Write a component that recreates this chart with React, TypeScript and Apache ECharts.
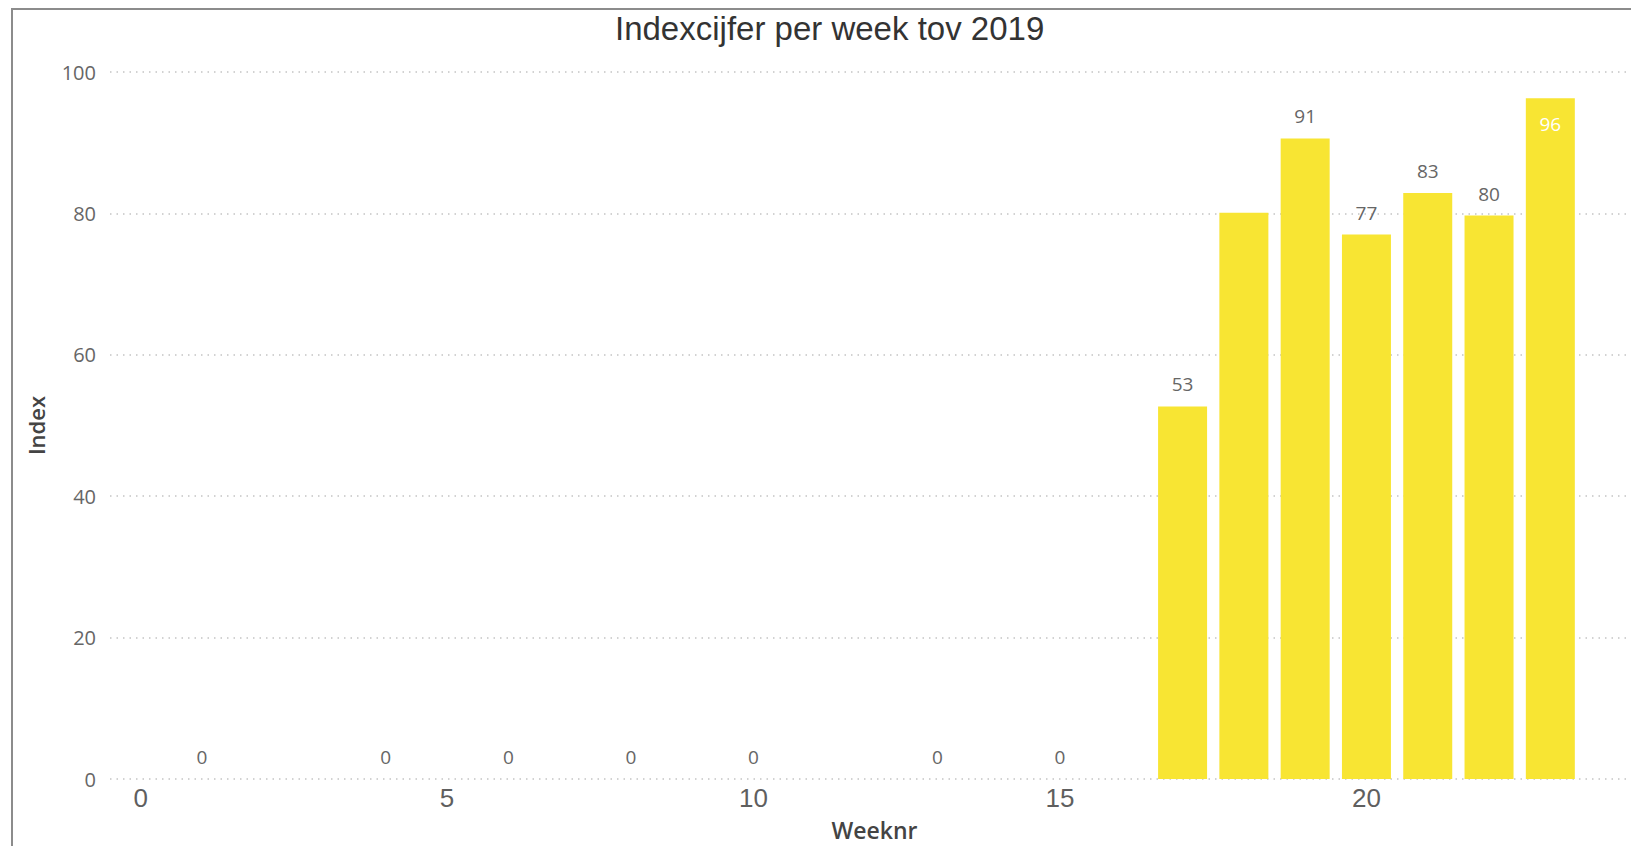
import React, { useEffect, useRef } from "react";
import * as echarts from "echarts";

const titleText = "Indexcijfer per week tov 2019";
const xAxisName = "Weeknr";
const yAxisName = "Index";
const weeks = [1, 4, 6, 8, 10, 13, 15, 17, 18, 19, 20, 21, 22, 23];
const indexValues = [0, 0, 0, 0, 0, 0, 0, 52.7, 80.1, 90.6, 77.0, 82.9, 79.7, 96.3];
const hiddenLabelWeeks = [18];
const insideLabelWeeks = [23];
const xTickValues = [0, 5, 10, 15, 20];

const BAR_COLOR = "#F8E533";
const LABEL_FONT = "'Open Sans', 'Noto Sans', sans-serif";

export default function App() {
  const ref = useRef<HTMLDivElement>(null);

  useEffect(() => {
    document.body.style.margin = "0";
    if (!ref.current) return;
    const chart = echarts.init(ref.current, undefined, { renderer: "svg" });

    const data = weeks.map((w, i) => {
      const item: any = { value: [w, indexValues[i]] };
      if (hiddenLabelWeeks.includes(w)) {
        item.label = { show: false };
      } else if (insideLabelWeeks.includes(w)) {
        item.label = { show: true, position: "insideTop", distance: 16, color: "#ffffff" };
      }
      return item;
    });

    chart.setOption({
      animation: false,
      backgroundColor: "#ffffff",
      title: {
        text: titleText,
        left: 610,
        top: 7,
        textStyle: {
          fontFamily: "'Liberation Sans', Arial, sans-serif",
          fontSize: 33,
          fontWeight: "normal",
          color: "#333333",
        },
      },
      graphic: [
        {
          type: "rect",
          z: -1,
          silent: true,
          shape: { x: 12, y: 9, width: 1700, height: 900 },
          style: { fill: "none", stroke: "#8c8c8c", lineWidth: 2 },
        },
      ],
      grid: { left: 110, top: 72, width: 1520, height: 707 },
      xAxis: {
        type: "value",
        min: -0.5,
        max: 24.3,
        name: xAxisName,
        nameLocation: "middle",
        nameGap: 39,
        nameTextStyle: {
          fontFamily: LABEL_FONT,
          fontSize: 23,
          fontWeight: 600,
          color: "#444444",
          padding: [0, 0, 0, 9],
        },
        axisLine: { show: false },
        axisTick: { show: false },
        splitLine: { show: false },
        axisLabel: {
          customValues: xTickValues,
          margin: 6,
          fontFamily: "'Liberation Sans Narrow', 'Liberation Sans', Arial, sans-serif",
          fontSize: 26,
          color: "#5f5f5f",
        },
      },
      yAxis: {
        type: "value",
        min: 0,
        max: 100,
        interval: 20,
        name: yAxisName,
        nameLocation: "middle",
        nameRotate: 90,
        nameGap: 63,
        nameTextStyle: {
          fontFamily: LABEL_FONT,
          fontSize: 22,
          fontWeight: 600,
          color: "#444444",
        },
        axisLine: { show: false },
        axisTick: { show: false },
        axisLabel: {
          margin: 14,
          fontFamily: LABEL_FONT,
          fontSize: 20,
          color: "#666666",
        },
        splitLine: {
          show: true,
          lineStyle: { color: "#c4c4c4", width: 1.5, type: [1.5, 5] },
        },
      },
      series: [
        {
          type: "bar",
          barWidth: 49,
          itemStyle: { color: BAR_COLOR },
          label: {
            show: true,
            position: "top",
            distance: 12.5,
            fontFamily: LABEL_FONT,
            fontSize: 19,
            color: "#666666",
            formatter: (p: any) => String(Math.round(p.value[1])),
          },
          data,
        },
      ],
    });

    return () => chart.dispose();
  }, []);

  return (
    <div
      ref={ref}
      style={{ position: "absolute", left: 0, top: 0, width: 1631, height: 846 }}
    />
  );
}
